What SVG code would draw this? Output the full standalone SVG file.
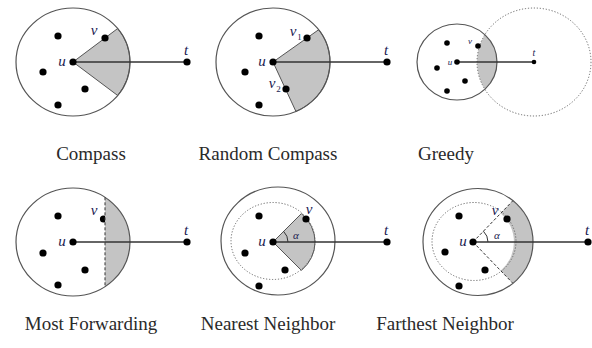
<svg xmlns="http://www.w3.org/2000/svg" width="592" height="348" viewBox="0 0 592 348">
<style>
.bg{fill:#fff}
.circ{fill:none;stroke:#555;stroke-width:1.2}
.shade{fill:#c4c4c4;stroke:#555;stroke-width:1}
.fill{fill:#c4c4c4;stroke:none}
.edge{stroke:#333;stroke-width:1.3;fill:none}
.dashed{stroke:#333;stroke-width:1;stroke-dasharray:3 2;fill:none}
.dotted{fill:none;stroke:#666;stroke-width:1;stroke-dasharray:1.2 1.8}
.ang{fill:none;stroke:#333;stroke-width:1}
.dot{fill:#000}
.lbl{font-family:"Liberation Serif",serif;font-style:italic;fill:#1a1a50;text-anchor:middle}
.up{font-family:"Liberation Serif",serif;font-style:normal;fill:#1a1a50;text-anchor:middle}
.cap{font-family:"Liberation Serif",serif;font-size:19px;fill:#2a2a2a;text-anchor:middle}
</style>
<rect class="bg" x="0" y="0" width="592" height="348"/>

<!-- Panel 1: Compass -->
<g id="compass">
  <path class="shade" d="M73 62 L117.7 28.5 A57 54 0 0 1 117.7 95.5 Z"/>
  <ellipse class="circ" cx="73" cy="62" rx="57" ry="54"/>
  <g id="compass-edges"><line class="edge" x1="73" y1="62" x2="187" y2="62"/></g>
  <g id="compass-nodes">
    <circle class="dot" cx="73" cy="62" r="3.6"/>
    <circle class="dot" cx="187" cy="62" r="3.6"/>
    <circle class="dot" cx="105" cy="38" r="3.6"/>
    <circle class="dot" cx="58" cy="36" r="3.6"/>
    <circle class="dot" cx="43" cy="72" r="3.6"/>
    <circle class="dot" cx="85" cy="89" r="3.6"/>
    <circle class="dot" cx="58" cy="105" r="3.6"/>
  </g>
  <text class="lbl" x="62" y="66" font-size="15">u</text>
  <text class="lbl" x="94" y="35" font-size="15">v</text>
  <text class="lbl" x="186" y="55" font-size="15">t</text>
  <text class="cap" x="91" y="160">Compass</text>
</g>

<!-- Panel 2: Random Compass -->
<g id="random-compass">
  <path class="shade" d="M273 62 L318.7 29.7 A57 54 0 0 1 295.9 111.4 Z"/>
  <ellipse class="circ" cx="273" cy="62" rx="57" ry="54"/>
  <g id="random-edges"><line class="edge" x1="273" y1="62" x2="387" y2="62"/></g>
  <g id="random-nodes">
    <circle class="dot" cx="273" cy="62" r="3.6"/>
    <circle class="dot" cx="387" cy="62" r="3.6"/>
    <circle class="dot" cx="307" cy="38" r="3.6"/>
    <circle class="dot" cx="286" cy="89" r="3.6"/>
    <circle class="dot" cx="259" cy="36" r="3.6"/>
    <circle class="dot" cx="245" cy="72" r="3.6"/>
    <circle class="dot" cx="259" cy="105" r="3.6"/>
  </g>
  <text class="lbl" x="262" y="66" font-size="15">u</text>
  <text class="lbl" x="293" y="36" font-size="15">v</text>
  <text class="up" x="299.5" y="40" font-size="9">1</text>
  <text class="lbl" x="272" y="88" font-size="15">v</text>
  <text class="up" x="278.5" y="92" font-size="9">2</text>
  <text class="lbl" x="386" y="55" font-size="15">t</text>
  <text class="cap" x="268" y="160">Random Compass</text>
</g>

<!-- Panel 3: Greedy -->
<g id="greedy">
  <path class="fill" d="M484.9 34.7 A40 38 0 0 1 484.9 89.3 A57 54 0 0 1 484.9 34.7 Z"/>
  <ellipse class="circ" cx="457" cy="62" rx="40" ry="38"/>
  <ellipse class="dotted" cx="534" cy="62" rx="57" ry="54" stroke="#777"/>
  <g id="greedy-edges"><line class="edge" x1="457" y1="62" x2="534" y2="62"/></g>
  <g id="greedy-nodes">
    <circle class="dot" cx="457" cy="62" r="2.8"/>
    <circle class="dot" cx="534" cy="62" r="2.3"/>
    <circle class="dot" cx="478" cy="46" r="2.8"/>
    <circle class="dot" cx="447" cy="43" r="2.8"/>
    <circle class="dot" cx="437" cy="68" r="2.8"/>
    <circle class="dot" cx="465" cy="81" r="2.8"/>
    <circle class="dot" cx="447" cy="91" r="2.8"/>
  </g>
  <text class="lbl" x="450" y="65" font-size="9">u</text>
  <text class="lbl" x="470" y="44" font-size="9">v</text>
  <text class="lbl" x="534" y="56" font-size="10">t</text>
  <text class="cap" x="446" y="160">Greedy</text>
</g>

<!-- Panel 4: Most Forwarding -->
<g id="most-forwarding">
  <circle class="dot" cx="103.5" cy="219" r="3.6"/>
  <path class="fill" d="M105 197.3 A57 54 0 0 1 105 286.7 Z"/>
  <ellipse class="circ" cx="73" cy="242" rx="57" ry="54"/>
  <line class="dashed" x1="105" y1="197.3" x2="105" y2="286.7"/>
  <g id="mf-edges"><line class="edge" x1="73" y1="242" x2="187" y2="242"/></g>
  <g id="mf-nodes">
    <circle class="dot" cx="73" cy="242" r="3.6"/>
    <circle class="dot" cx="187" cy="242" r="3.6"/>
    <circle class="dot" cx="58" cy="216" r="3.6"/>
    <circle class="dot" cx="43" cy="253" r="3.6"/>
    <circle class="dot" cx="85" cy="270" r="3.6"/>
    <circle class="dot" cx="58" cy="285" r="3.6"/>
  </g>
  <text class="lbl" x="62" y="246" font-size="15">u</text>
  <text class="lbl" x="94" y="215" font-size="15">v</text>
  <text class="lbl" x="186" y="235" font-size="15">t</text>
  <text class="cap" x="91" y="330">Most Forwarding</text>
</g>

<!-- Panel 5: Nearest Neighbor -->
<g id="nearest-neighbor">
  <path class="shade" d="M273 242 L301.4 213.6 A42 38.5 0 0 1 301.4 270.4 Z"/>
  <ellipse class="circ" cx="278" cy="241" rx="57" ry="54"/>
  <ellipse class="dotted" cx="273" cy="241" rx="42" ry="38.5"/>
  <path class="ang" d="M288 242 A15 15 0 0 0 283.6 231.4"/>
  <g id="nn-edges"><line class="edge" x1="273" y1="242" x2="387" y2="242"/></g>
  <g id="nn-nodes">
    <circle class="dot" cx="273" cy="242" r="3.6"/>
    <circle class="dot" cx="387" cy="242" r="3.6"/>
    <circle class="dot" cx="306" cy="219" r="3.6"/>
    <circle class="dot" cx="259" cy="216" r="3.6"/>
    <circle class="dot" cx="245" cy="253" r="3.6"/>
    <circle class="dot" cx="285" cy="270" r="3.6"/>
    <circle class="dot" cx="259" cy="286" r="3.6"/>
  </g>
  <text class="lbl" x="262" y="246" font-size="15">u</text>
  <text class="lbl" x="309" y="214" font-size="15">v</text>
  <text class="lbl" x="296" y="239" font-size="11">α</text>
  <text class="lbl" x="386" y="235" font-size="15">t</text>
  <text class="cap" x="268" y="330">Nearest Neighbor</text>
</g>

<!-- Panel 6: Farthest Neighbor -->
<g id="farthest-neighbor">
  <path class="fill" d="M500.7 213.3 L512.7 200.9 A55 53 0 0 1 512.7 283.1 L500.7 270.7 A41 39 0 0 0 500.7 213.3 Z"/>
  <ellipse class="circ" cx="478" cy="242" rx="55" ry="53.5" stroke-width="1.6"/>
  <ellipse class="dotted" cx="474" cy="241.5" rx="42" ry="39"/>
  <line class="dashed" x1="473" y1="242" x2="512.7" y2="200.9"/>
  <line class="dashed" x1="473" y1="242" x2="512.7" y2="283.1"/>
  <path class="ang" d="M488 242 A15 15 0 0 0 483.4 231.2"/>
  <g id="fn-edges"><line class="edge" x1="473" y1="242" x2="588" y2="242"/></g>
  <g id="fn-nodes">
    <circle class="dot" cx="473" cy="242" r="3.6"/>
    <circle class="dot" cx="588" cy="242" r="3.6"/>
    <circle class="dot" cx="507" cy="219" r="3.6"/>
    <circle class="dot" cx="459" cy="216" r="3.6"/>
    <circle class="dot" cx="445" cy="252" r="3.6"/>
    <circle class="dot" cx="485" cy="270" r="3.6"/>
    <circle class="dot" cx="459" cy="286" r="3.6"/>
  </g>
  <text class="lbl" x="463" y="246" font-size="15">u</text>
  <text class="lbl" x="495" y="215" font-size="15">v</text>
  <text class="lbl" x="497" y="239" font-size="11">α</text>
  <text class="lbl" x="587" y="235" font-size="15">t</text>
  <text class="cap" x="445" y="330">Farthest Neighbor</text>
</g>
</svg>
